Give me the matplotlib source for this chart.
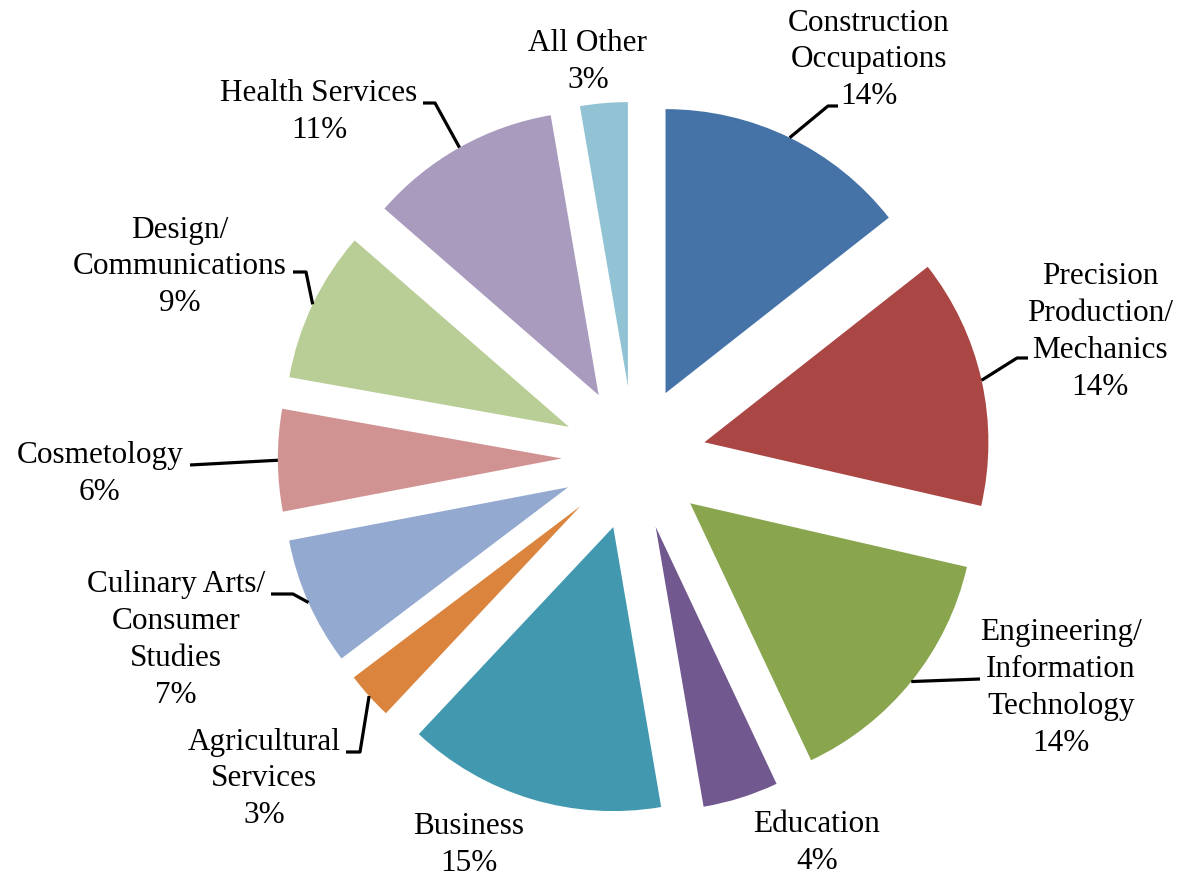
import numpy as np
import matplotlib.pyplot as plt

# share of enrollment by career cluster, clockwise from 12 o'clock
categories = ["Construction\nOccupations", "Precision\nProduction/\nMechanics",
              "Engineering/\nInformation\nTechnology", "Education", "Business",
              "Agricultural\nServices", "Culinary Arts/\nConsumer\nStudies",
              "Cosmetology", "Design/\nCommunications", "Health Services", "All Other"]
shares = [14.4, 14.2, 14.4, 4.3, 14.7, 2.7, 7.3, 5.8, 8.6, 10.9, 2.7]
colors = ["#4572A7", "#AA4643", "#89A54E", "#71588F", "#4198AF", "#DB843D",
          "#93A9CF", "#D19392", "#B9CD96", "#A99BBD", "#92C3D4"]

# layout (pixels in the 1180x876 image)
W, H = 1180, 876
CX, CY, PX = 634, 458, 284      # pie centre and pixels per radius
EXPLODE = 0.254

label_pos = [(869, 60), (1100, 332), (1061, 688), (817, 843), (469, 845),
             (264, 779), (176, 640), (100, 474), (180, 267), (319, 112), (588, 62)]
# leader lines: list of points after the arc point (None = no leader)
leaders = [[(828, 106), (838, 106)],
           [(1017, 358), (1028, 358)],
           [(980, 679)],
           None,
           None,
           [(360, 752), (346, 752)],
           [(293, 594), (271, 594)],
           [(190, 465)],
           [(306, 272), (293, 272)],
           [(435, 103), (423, 103)],
           None]


def px2d(x, y):
    return (x - CX) / PX, (CY - y) / PX


fig = plt.figure(figsize=(W / 100, H / 100), dpi=100)
ax = fig.add_axes([0, 0, 1, 1])

wedges, _ = ax.pie(shares, colors=colors, startangle=90, counterclock=False,
                   explode=[EXPLODE] * len(shares),
                   wedgeprops=dict(linewidth=0))

ax.set_xlim(px2d(0, 0)[0], px2d(W, 0)[0])
ax.set_ylim(px2d(0, H)[1], px2d(0, 0)[1])
ax.set_aspect('equal')
ax.axis('off')

cum = np.cumsum([0] + shares)
for i, (name, val) in enumerate(zip(categories, shares)):
    mid = (cum[i] + cum[i + 1]) / 2 / 100 * 2 * np.pi
    dx, dy = np.sin(mid), np.cos(mid)
    if leaders[i] is not None:
        pts = [((1 + EXPLODE) * dx, (1 + EXPLODE) * dy)] + [px2d(*p) for p in leaders[i]]
        xs, ys = zip(*pts)
        ax.plot(xs, ys, color='black', lw=2.3, solid_capstyle='butt', zorder=3)
    lx, ly = px2d(*label_pos[i])
    ax.text(lx, ly, f"{name}\n{val:.0f}%", ha='center', va='center',
            multialignment='center', fontsize=22.5, family='Liberation Serif',
            linespacing=1.35, color='black')

fig.savefig("out.png", dpi=100)
